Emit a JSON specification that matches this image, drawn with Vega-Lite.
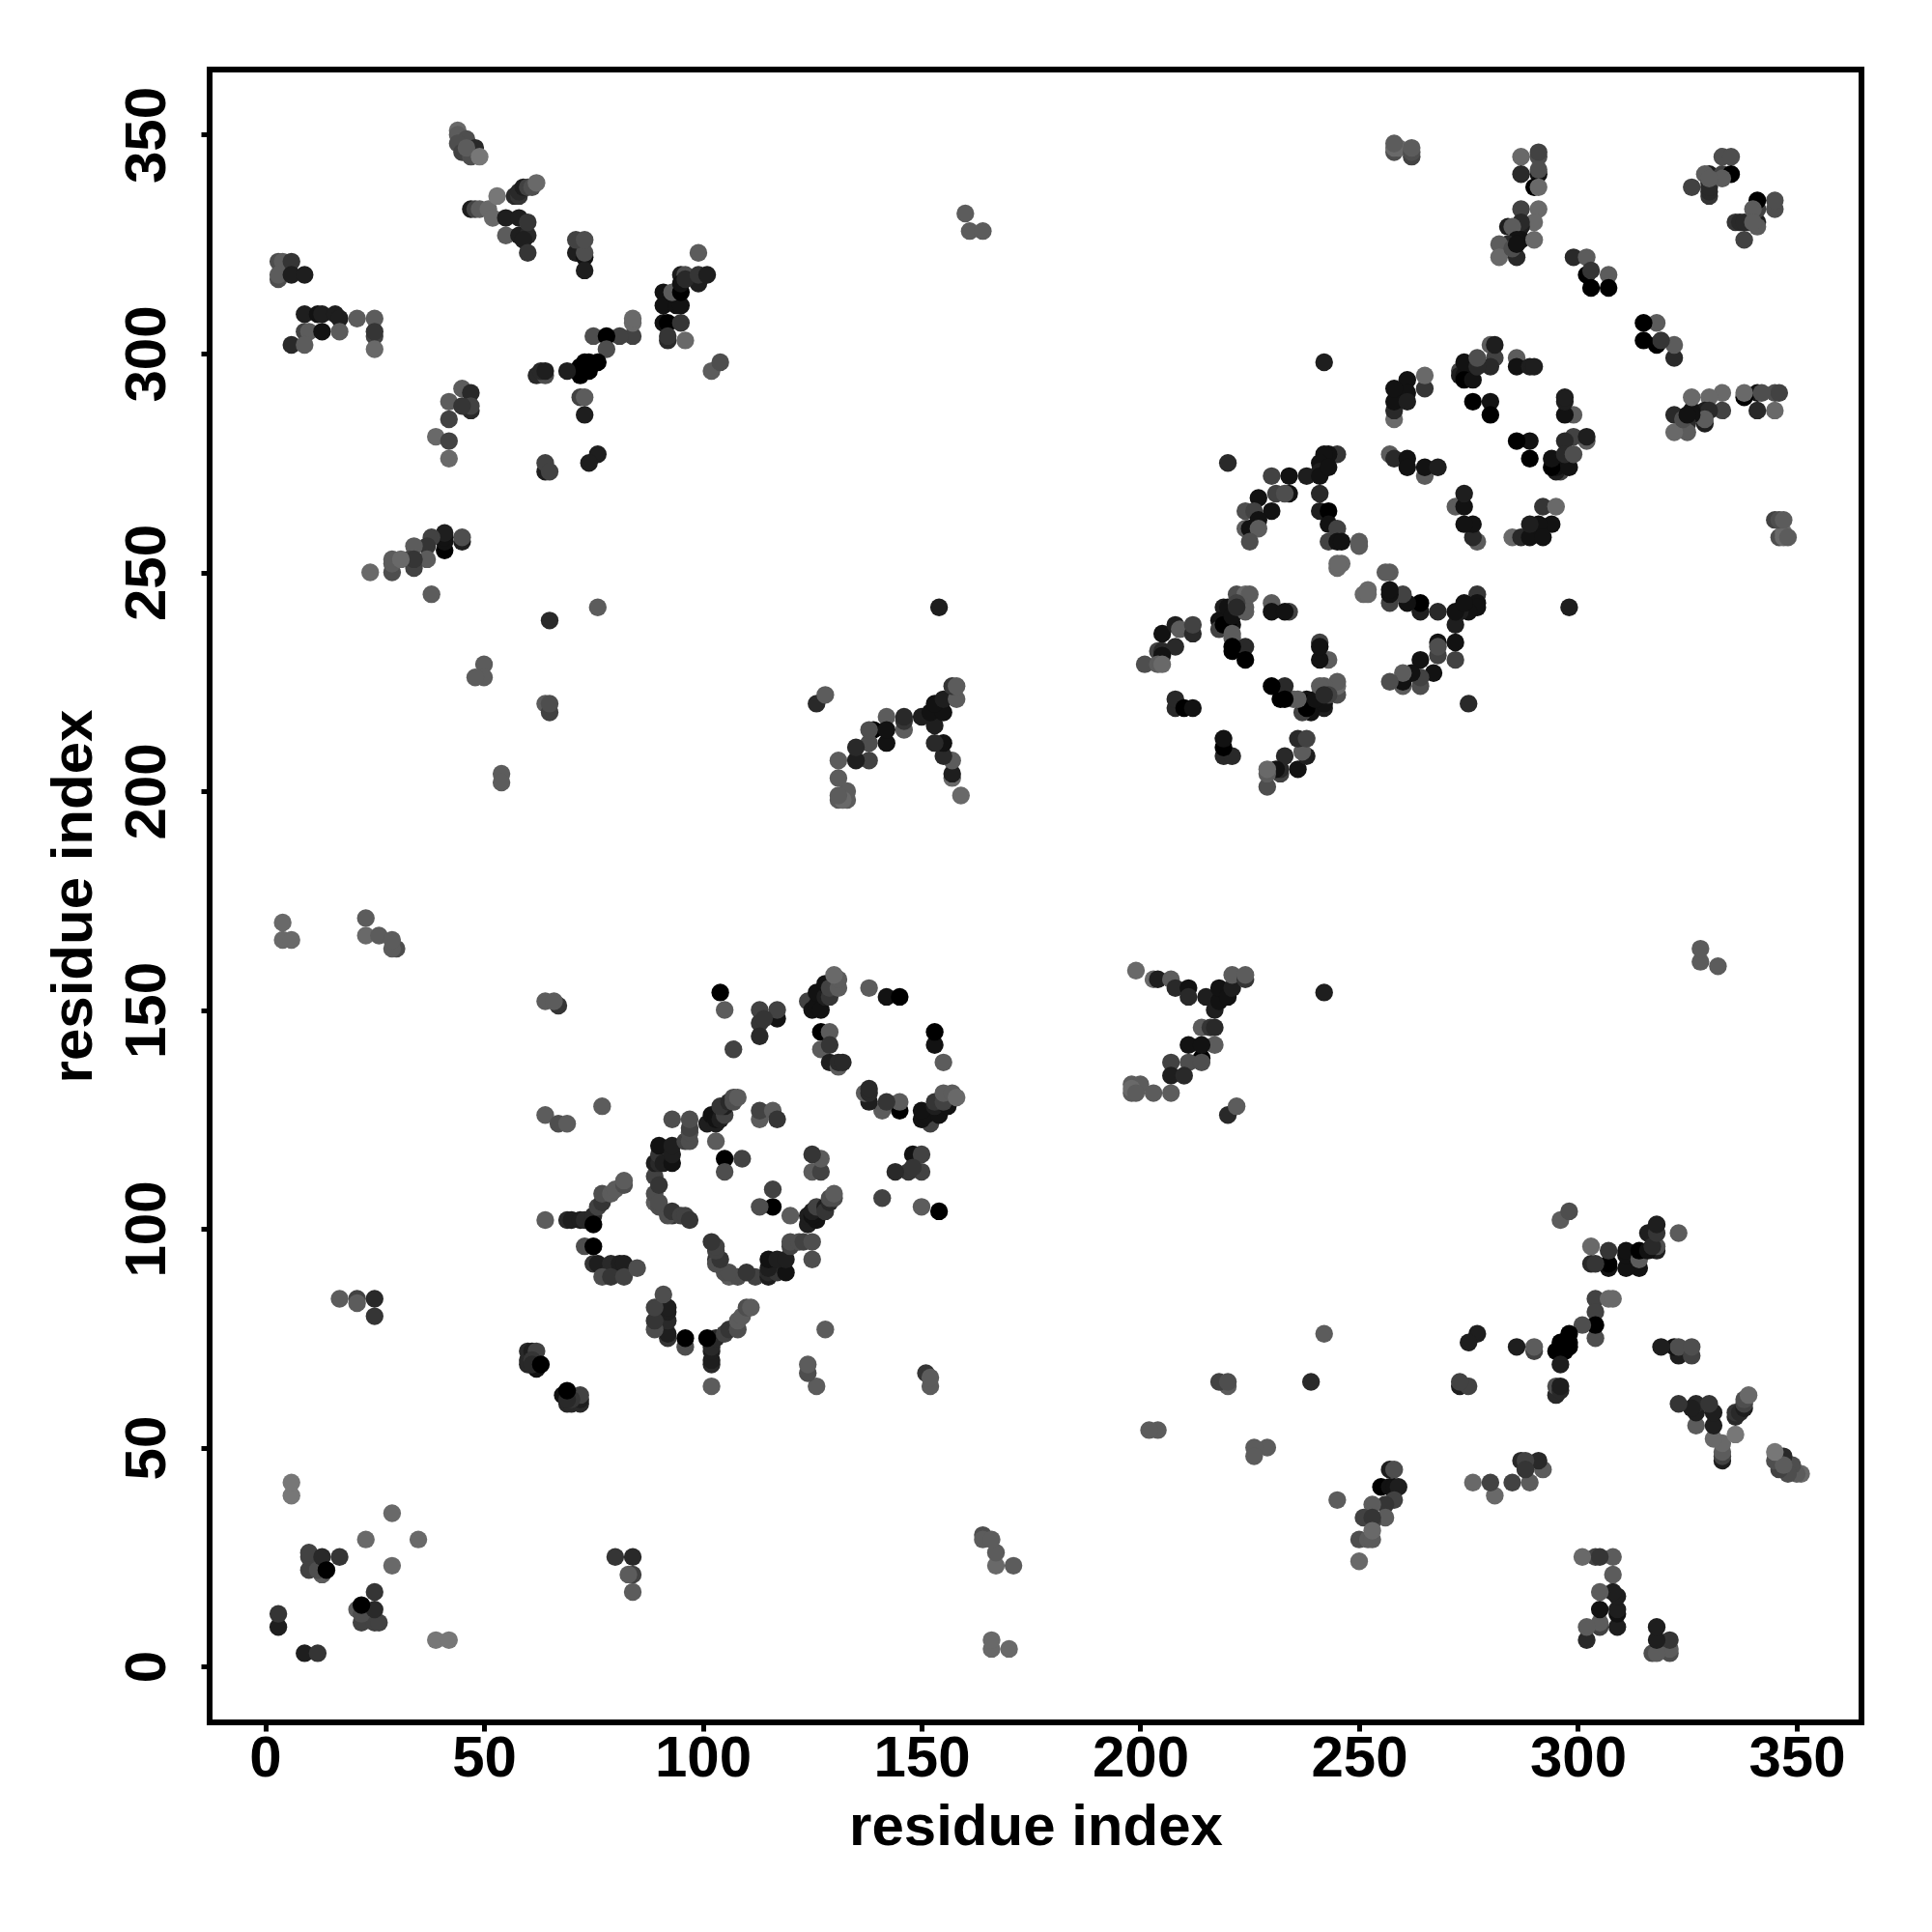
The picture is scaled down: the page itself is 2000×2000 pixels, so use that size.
{"$schema":"https://vega.github.io/schema/vega-lite/v6.json","width":1710,"height":1711,"autosize":"none","padding":{"left":217,"top":72,"right":73,"bottom":217},"background":"white","config":{"view":{"stroke":"#000000","strokeWidth":6}},
"data":{"values":[
{"x":3,"y":9,"v":2},{"x":9,"y":3,"v":2},{"x":3,"y":12,"v":4},{"x":12,"y":3,"v":4},{"x":6,"y":39,"v":9},{"x":39,"y":6,"v":9},{"x":6,"y":42,"v":9},{"x":42,"y":6,"v":9},{"x":23,"y":29,"v":8},{"x":29,"y":23,"v":8},{"x":29,"y":35,"v":8},{"x":35,"y":29,"v":8},{"x":10,"y":22,"v":5},{"x":22,"y":10,"v":5},{"x":10,"y":25,"v":5},{"x":25,"y":10,"v":5},{"x":10,"y":26,"v":5},{"x":26,"y":10,"v":5},{"x":13,"y":21,"v":7},{"x":21,"y":13,"v":7},{"x":12,"y":22,"v":6},{"x":22,"y":12,"v":6},{"x":13,"y":25,"v":3},{"x":25,"y":13,"v":3},{"x":17,"y":25,"v":4},{"x":25,"y":17,"v":4},{"x":14,"y":22,"v":0},{"x":22,"y":14,"v":0},
{"x":44,"y":351,"v":8},{"x":351,"y":44,"v":8},{"x":44,"y":350,"v":7},{"x":350,"y":44,"v":7},{"x":45,"y":348,"v":7},{"x":348,"y":45,"v":7},{"x":46,"y":349,"v":6},{"x":349,"y":46,"v":6},{"x":44,"y":348,"v":6},{"x":348,"y":44,"v":6},{"x":45,"y":346,"v":5},{"x":346,"y":45,"v":5},{"x":47,"y":345,"v":6},{"x":345,"y":47,"v":6},{"x":48,"y":347,"v":3},{"x":347,"y":48,"v":3},{"x":46,"y":347,"v":7},{"x":347,"y":46,"v":7},{"x":49,"y":345,"v":9},{"x":345,"y":49,"v":9},
{"x":47,"y":333,"v":2},{"x":333,"y":47,"v":2},{"x":48,"y":333,"v":5},{"x":333,"y":48,"v":5},{"x":49,"y":333,"v":7},{"x":333,"y":49,"v":7},{"x":51,"y":333,"v":8},{"x":333,"y":51,"v":8},{"x":53,"y":336,"v":9},{"x":336,"y":53,"v":9},{"x":52,"y":331,"v":8},{"x":331,"y":52,"v":8},{"x":55,"y":331,"v":2},{"x":331,"y":55,"v":2},{"x":58,"y":331,"v":2},{"x":331,"y":58,"v":2},{"x":55,"y":327,"v":7},{"x":327,"y":55,"v":7},{"x":58,"y":327,"v":2},{"x":327,"y":58,"v":2},{"x":60,"y":327,"v":3},{"x":327,"y":60,"v":3},{"x":59,"y":326,"v":2},{"x":326,"y":59,"v":2},{"x":60,"y":330,"v":4},{"x":330,"y":60,"v":4},{"x":60,"y":323,"v":4},{"x":323,"y":60,"v":4},{"x":57,"y":336,"v":3},{"x":336,"y":57,"v":3},{"x":58,"y":336,"v":4},{"x":336,"y":58,"v":4},{"x":58,"y":337,"v":3},{"x":337,"y":58,"v":3},{"x":59,"y":338,"v":2},{"x":338,"y":59,"v":2},{"x":60,"y":338,"v":5},{"x":338,"y":60,"v":5},{"x":61,"y":338,"v":6},{"x":338,"y":61,"v":6},{"x":62,"y":339,"v":8},{"x":339,"y":62,"v":8},
{"x":71,"y":323,"v":2},{"x":323,"y":71,"v":2},{"x":73,"y":322,"v":1},{"x":322,"y":73,"v":1},{"x":73,"y":323,"v":6},{"x":323,"y":73,"v":6},{"x":71,"y":326,"v":5},{"x":326,"y":71,"v":5},{"x":73,"y":326,"v":6},{"x":326,"y":73,"v":6},{"x":73,"y":319,"v":2},{"x":319,"y":73,"v":2},
{"x":3,"y":321,"v":6},{"x":321,"y":3,"v":6},{"x":4,"y":321,"v":7},{"x":321,"y":4,"v":7},{"x":6,"y":321,"v":4},{"x":321,"y":6,"v":4},{"x":3,"y":317,"v":6},{"x":317,"y":3,"v":6},{"x":3,"y":318,"v":7},{"x":318,"y":3,"v":7},{"x":6,"y":318,"v":2},{"x":318,"y":6,"v":2},{"x":9,"y":318,"v":2},{"x":318,"y":9,"v":2},
{"x":9,"y":309,"v":2},{"x":309,"y":9,"v":2},{"x":12,"y":309,"v":1},{"x":309,"y":12,"v":1},{"x":13,"y":309,"v":2},{"x":309,"y":13,"v":2},{"x":16,"y":309,"v":2},{"x":309,"y":16,"v":2},{"x":17,"y":308,"v":2},{"x":308,"y":17,"v":2},{"x":21,"y":308,"v":7},{"x":308,"y":21,"v":7},{"x":25,"y":308,"v":7},{"x":308,"y":25,"v":7},{"x":9,"y":305,"v":5},{"x":305,"y":9,"v":5},{"x":10,"y":305,"v":7},{"x":305,"y":10,"v":7},{"x":13,"y":305,"v":1},{"x":305,"y":13,"v":1},{"x":17,"y":305,"v":7},{"x":305,"y":17,"v":7},{"x":25,"y":304,"v":5},{"x":304,"y":25,"v":5},{"x":25,"y":305,"v":4},{"x":305,"y":25,"v":4},{"x":25,"y":301,"v":8},{"x":301,"y":25,"v":8},{"x":6,"y":302,"v":3},{"x":302,"y":6,"v":3},{"x":9,"y":302,"v":7},{"x":302,"y":9,"v":7},
{"x":91,"y":314,"v":1},{"x":314,"y":91,"v":1},{"x":91,"y":311,"v":1},{"x":311,"y":91,"v":1},{"x":94,"y":311,"v":1},{"x":311,"y":94,"v":1},{"x":95,"y":311,"v":1},{"x":311,"y":95,"v":1},{"x":93,"y":314,"v":7},{"x":314,"y":93,"v":7},{"x":95,"y":314,"v":0},{"x":314,"y":95,"v":0},{"x":95,"y":318,"v":2},{"x":318,"y":95,"v":2},{"x":96,"y":318,"v":6},{"x":318,"y":96,"v":6},{"x":99,"y":323,"v":7},{"x":323,"y":99,"v":7},{"x":99,"y":316,"v":2},{"x":316,"y":99,"v":2},{"x":95,"y":316,"v":1},{"x":316,"y":95,"v":1},{"x":96,"y":317,"v":3},{"x":317,"y":96,"v":3},{"x":99,"y":318,"v":4},{"x":318,"y":99,"v":4},{"x":101,"y":318,"v":2},{"x":318,"y":101,"v":2},{"x":91,"y":307,"v":1},{"x":307,"y":91,"v":1},{"x":92,"y":307,"v":0},{"x":307,"y":92,"v":0},{"x":95,"y":307,"v":4},{"x":307,"y":95,"v":4},{"x":92,"y":303,"v":3},{"x":303,"y":92,"v":3},{"x":92,"y":304,"v":4},{"x":304,"y":92,"v":4},{"x":96,"y":303,"v":8},{"x":303,"y":96,"v":8},{"x":102,"y":296,"v":7},{"x":296,"y":102,"v":7},{"x":104,"y":298,"v":6},{"x":298,"y":104,"v":6},
{"x":84,"y":304,"v":5},{"x":304,"y":84,"v":5},{"x":84,"y":307,"v":8},{"x":307,"y":84,"v":8},{"x":84,"y":308,"v":8},{"x":308,"y":84,"v":8},{"x":75,"y":304,"v":6},{"x":304,"y":75,"v":6},{"x":81,"y":304,"v":5},{"x":304,"y":81,"v":5},{"x":78,"y":304,"v":0},{"x":304,"y":78,"v":0},{"x":78,"y":301,"v":6},{"x":301,"y":78,"v":6},{"x":76,"y":298,"v":0},{"x":298,"y":76,"v":0},{"x":74,"y":298,"v":0},{"x":298,"y":74,"v":0},{"x":73,"y":298,"v":0},{"x":298,"y":73,"v":0},{"x":74,"y":296,"v":0},{"x":296,"y":74,"v":0},{"x":72,"y":295,"v":0},{"x":295,"y":72,"v":0},{"x":72,"y":297,"v":0},{"x":297,"y":72,"v":0},{"x":69,"y":296,"v":2},{"x":296,"y":69,"v":2},{"x":62,"y":295,"v":3},{"x":295,"y":62,"v":3},{"x":64,"y":295,"v":6},{"x":295,"y":64,"v":6},{"x":63,"y":296,"v":3},{"x":296,"y":63,"v":3},{"x":64,"y":296,"v":2},{"x":296,"y":64,"v":2},{"x":72,"y":290,"v":5},{"x":290,"y":72,"v":5},{"x":73,"y":290,"v":7},{"x":290,"y":73,"v":7},{"x":73,"y":286,"v":2},{"x":286,"y":73,"v":2},{"x":64,"y":273,"v":2},{"x":273,"y":64,"v":2},{"x":64,"y":275,"v":5},{"x":275,"y":64,"v":5},{"x":65,"y":273,"v":5},{"x":273,"y":65,"v":5},{"x":76,"y":277,"v":2},{"x":277,"y":76,"v":2},{"x":74,"y":275,"v":2},{"x":275,"y":74,"v":2},
{"x":45,"y":292,"v":7},{"x":292,"y":45,"v":7},{"x":47,"y":291,"v":3},{"x":291,"y":47,"v":3},{"x":42,"y":289,"v":7},{"x":289,"y":42,"v":7},{"x":47,"y":287,"v":3},{"x":287,"y":47,"v":3},{"x":47,"y":288,"v":5},{"x":288,"y":47,"v":5},{"x":45,"y":288,"v":4},{"x":288,"y":45,"v":4},{"x":42,"y":285,"v":5},{"x":285,"y":42,"v":5},{"x":39,"y":281,"v":8},{"x":281,"y":39,"v":8},{"x":42,"y":280,"v":5},{"x":280,"y":42,"v":5},{"x":42,"y":276,"v":8},{"x":276,"y":42,"v":8},
{"x":45,"y":257,"v":2},{"x":257,"y":45,"v":2},{"x":45,"y":258,"v":6},{"x":258,"y":45,"v":6},{"x":41,"y":255,"v":0},{"x":255,"y":41,"v":0},{"x":41,"y":257,"v":1},{"x":257,"y":41,"v":1},{"x":41,"y":258,"v":1},{"x":258,"y":41,"v":1},{"x":41,"y":259,"v":2},{"x":259,"y":41,"v":2},{"x":38,"y":258,"v":5},{"x":258,"y":38,"v":5},{"x":37,"y":256,"v":4},{"x":256,"y":37,"v":4},{"x":34,"y":256,"v":7},{"x":256,"y":34,"v":7},{"x":33,"y":253,"v":5},{"x":253,"y":33,"v":5},{"x":37,"y":253,"v":7},{"x":253,"y":37,"v":7},{"x":34,"y":251,"v":5},{"x":251,"y":34,"v":5},{"x":34,"y":253,"v":4},{"x":253,"y":34,"v":4},{"x":29,"y":250,"v":6},{"x":250,"y":29,"v":6},{"x":29,"y":252,"v":7},{"x":252,"y":29,"v":7},{"x":29,"y":253,"v":7},{"x":253,"y":29,"v":7},{"x":31,"y":253,"v":8},{"x":253,"y":31,"v":8},{"x":24,"y":250,"v":8},{"x":250,"y":24,"v":8},{"x":38,"y":245,"v":7},{"x":245,"y":38,"v":7},
{"x":76,"y":242,"v":7},{"x":242,"y":76,"v":7},{"x":65,"y":239,"v":3},{"x":239,"y":65,"v":3},{"x":50,"y":229,"v":7},{"x":229,"y":50,"v":7},{"x":50,"y":226,"v":7},{"x":226,"y":50,"v":7},{"x":48,"y":226,"v":7},{"x":226,"y":48,"v":7},{"x":64,"y":220,"v":7},{"x":220,"y":64,"v":7},{"x":65,"y":218,"v":5},{"x":218,"y":65,"v":5},{"x":65,"y":220,"v":6},{"x":220,"y":65,"v":6},{"x":54,"y":204,"v":7},{"x":204,"y":54,"v":7},{"x":54,"y":202,"v":7},{"x":202,"y":54,"v":7},
{"x":4,"y":170,"v":8},{"x":170,"y":4,"v":8},{"x":4,"y":166,"v":8},{"x":166,"y":4,"v":8},{"x":6,"y":166,"v":8},{"x":166,"y":6,"v":8},{"x":23,"y":171,"v":7},{"x":171,"y":23,"v":7},{"x":23,"y":167,"v":8},{"x":167,"y":23,"v":8},{"x":26,"y":167,"v":7},{"x":167,"y":26,"v":7},{"x":30,"y":164,"v":6},{"x":164,"y":30,"v":6},{"x":29,"y":164,"v":7},{"x":164,"y":29,"v":7},{"x":29,"y":166,"v":7},{"x":166,"y":29,"v":7},
{"x":67,"y":151,"v":4},{"x":151,"y":67,"v":4},{"x":64,"y":152,"v":7},{"x":152,"y":64,"v":7},{"x":66,"y":152,"v":7},{"x":152,"y":66,"v":7},{"x":64,"y":126,"v":7},{"x":126,"y":64,"v":7},{"x":67,"y":124,"v":6},{"x":124,"y":67,"v":6},{"x":69,"y":124,"v":7},{"x":124,"y":69,"v":7},{"x":77,"y":128,"v":7},{"x":128,"y":77,"v":7},{"x":64,"y":102,"v":7},{"x":102,"y":64,"v":7},
{"x":25,"y":80,"v":4},{"x":80,"y":25,"v":4},{"x":25,"y":84,"v":3},{"x":84,"y":25,"v":3},{"x":21,"y":84,"v":5},{"x":84,"y":21,"v":5},{"x":21,"y":83,"v":7},{"x":83,"y":21,"v":7},{"x":17,"y":84,"v":7},{"x":84,"y":17,"v":7},
{"x":62,"y":68,"v":1},{"x":68,"y":62,"v":1},{"x":60,"y":69,"v":3},{"x":69,"y":60,"v":3},{"x":60,"y":70,"v":3},{"x":70,"y":60,"v":3},{"x":60,"y":72,"v":3},{"x":72,"y":60,"v":3},{"x":61,"y":72,"v":2},{"x":72,"y":61,"v":2},{"x":62,"y":72,"v":5},{"x":72,"y":62,"v":5},{"x":61,"y":70,"v":4},{"x":70,"y":61,"v":4},{"x":61,"y":69,"v":3},{"x":69,"y":61,"v":3},{"x":63,"y":69,"v":0},{"x":69,"y":63,"v":0},
{"x":69,"y":102,"v":3},{"x":102,"y":69,"v":3},{"x":70,"y":102,"v":2},{"x":102,"y":70,"v":2},{"x":72,"y":102,"v":2},{"x":102,"y":72,"v":2},{"x":73,"y":102,"v":3},{"x":102,"y":73,"v":3},{"x":75,"y":103,"v":3},{"x":103,"y":75,"v":3},{"x":75,"y":101,"v":0},{"x":101,"y":75,"v":0},{"x":76,"y":105,"v":5},{"x":105,"y":76,"v":5},{"x":77,"y":106,"v":4},{"x":106,"y":77,"v":4},{"x":77,"y":108,"v":6},{"x":108,"y":77,"v":6},{"x":79,"y":108,"v":7},{"x":108,"y":79,"v":7},{"x":80,"y":109,"v":7},{"x":109,"y":80,"v":7},{"x":82,"y":110,"v":6},{"x":110,"y":82,"v":6},{"x":82,"y":111,"v":7},{"x":111,"y":82,"v":7},{"x":73,"y":96,"v":6},{"x":96,"y":73,"v":6},{"x":75,"y":96,"v":0},{"x":96,"y":75,"v":0},{"x":75,"y":92,"v":4},{"x":92,"y":75,"v":4},{"x":76,"y":92,"v":2},{"x":92,"y":76,"v":2},{"x":79,"y":92,"v":3},{"x":92,"y":79,"v":3},{"x":81,"y":92,"v":2},{"x":92,"y":81,"v":2},{"x":77,"y":89,"v":6},{"x":89,"y":77,"v":6},{"x":79,"y":89,"v":4},{"x":89,"y":79,"v":4},{"x":82,"y":92,"v":2},{"x":92,"y":82,"v":2},{"x":82,"y":89,"v":5},{"x":89,"y":82,"v":5},{"x":85,"y":91,"v":6},{"x":91,"y":85,"v":6},
{"x":89,"y":106,"v":7},{"x":106,"y":89,"v":7},{"x":89,"y":108,"v":6},{"x":108,"y":89,"v":6},{"x":89,"y":112,"v":5},{"x":112,"y":89,"v":5},{"x":89,"y":115,"v":2},{"x":115,"y":89,"v":2},{"x":90,"y":105,"v":6},{"x":105,"y":90,"v":6},{"x":90,"y":106,"v":6},{"x":106,"y":90,"v":6},{"x":90,"y":110,"v":4},{"x":110,"y":90,"v":4},{"x":90,"y":115,"v":3},{"x":115,"y":90,"v":3},{"x":90,"y":117,"v":4},{"x":117,"y":90,"v":4},{"x":90,"y":119,"v":1},{"x":119,"y":90,"v":1},{"x":91,"y":115,"v":2},{"x":115,"y":91,"v":2},{"x":93,"y":103,"v":4},{"x":103,"y":93,"v":4},{"x":92,"y":103,"v":6},{"x":103,"y":92,"v":6},{"x":93,"y":104,"v":4},{"x":104,"y":93,"v":4},{"x":95,"y":103,"v":5},{"x":103,"y":95,"v":5},{"x":96,"y":103,"v":5},{"x":103,"y":96,"v":5},{"x":97,"y":102,"v":4},{"x":102,"y":97,"v":4},{"x":93,"y":115,"v":1},{"x":115,"y":93,"v":1},{"x":93,"y":117,"v":2},{"x":117,"y":93,"v":2},{"x":93,"y":119,"v":2},{"x":119,"y":93,"v":2},{"x":93,"y":125,"v":6},{"x":125,"y":93,"v":6},{"x":96,"y":120,"v":5},{"x":120,"y":96,"v":5},{"x":97,"y":120,"v":6},{"x":120,"y":97,"v":6},{"x":97,"y":122,"v":6},{"x":122,"y":97,"v":6},{"x":97,"y":123,"v":5},{"x":123,"y":97,"v":5},{"x":97,"y":125,"v":6},{"x":125,"y":97,"v":6},
{"x":103,"y":120,"v":7},{"x":120,"y":103,"v":7},{"x":101,"y":124,"v":2},{"x":124,"y":101,"v":2},{"x":102,"y":126,"v":1},{"x":126,"y":102,"v":1},{"x":104,"y":126,"v":1},{"x":126,"y":104,"v":1},{"x":103,"y":124,"v":2},{"x":124,"y":103,"v":2},{"x":103,"y":125,"v":1},{"x":125,"y":103,"v":1},{"x":104,"y":125,"v":2},{"x":125,"y":104,"v":2},{"x":105,"y":126,"v":5},{"x":126,"y":105,"v":5},{"x":105,"y":128,"v":2},{"x":128,"y":105,"v":2},{"x":104,"y":128,"v":4},{"x":128,"y":104,"v":4},{"x":106,"y":129,"v":3},{"x":129,"y":106,"v":3},{"x":107,"y":129,"v":6},{"x":129,"y":107,"v":6},{"x":107,"y":130,"v":6},{"x":130,"y":107,"v":6},{"x":108,"y":130,"v":7},{"x":130,"y":108,"v":7},{"x":105,"y":116,"v":0},{"x":116,"y":105,"v":0},{"x":105,"y":113,"v":6},{"x":113,"y":105,"v":6},{"x":109,"y":116,"v":5},{"x":116,"y":109,"v":5},
{"x":113,"y":125,"v":7},{"x":125,"y":113,"v":7},{"x":113,"y":127,"v":5},{"x":127,"y":113,"v":5},{"x":116,"y":127,"v":7},{"x":127,"y":116,"v":7},{"x":117,"y":125,"v":4},{"x":125,"y":117,"v":4},
{"x":124,"y":152,"v":5},{"x":152,"y":124,"v":5},{"x":125,"y":150,"v":1},{"x":150,"y":125,"v":1},{"x":126,"y":151,"v":1},{"x":151,"y":126,"v":1},{"x":127,"y":150,"v":1},{"x":150,"y":127,"v":1},{"x":126,"y":154,"v":1},{"x":154,"y":126,"v":1},{"x":128,"y":153,"v":2},{"x":153,"y":128,"v":2},{"x":129,"y":153,"v":4},{"x":153,"y":129,"v":4},{"x":128,"y":156,"v":1},{"x":156,"y":128,"v":1},{"x":129,"y":155,"v":5},{"x":155,"y":129,"v":5},{"x":131,"y":155,"v":7},{"x":155,"y":131,"v":7},{"x":131,"y":157,"v":7},{"x":157,"y":131,"v":7},{"x":130,"y":158,"v":8},{"x":158,"y":130,"v":8},{"x":138,"y":155,"v":7},{"x":155,"y":138,"v":7},{"x":142,"y":153,"v":1},{"x":153,"y":142,"v":1},{"x":145,"y":153,"v":0},{"x":153,"y":145,"v":0},{"x":113,"y":150,"v":5},{"x":150,"y":113,"v":5},{"x":117,"y":148,"v":1},{"x":148,"y":117,"v":1},{"x":117,"y":150,"v":5},{"x":150,"y":117,"v":5},{"x":113,"y":147,"v":4},{"x":147,"y":113,"v":4},{"x":114,"y":148,"v":4},{"x":148,"y":114,"v":4},{"x":113,"y":144,"v":3},{"x":144,"y":113,"v":3},{"x":127,"y":145,"v":0},{"x":145,"y":127,"v":0},{"x":129,"y":145,"v":7},{"x":145,"y":129,"v":7},{"x":127,"y":141,"v":7},{"x":141,"y":127,"v":7},{"x":129,"y":142,"v":4},{"x":142,"y":129,"v":4},{"x":129,"y":138,"v":2},{"x":138,"y":129,"v":2},{"x":131,"y":137,"v":7},{"x":137,"y":131,"v":7},{"x":131,"y":138,"v":3},{"x":138,"y":131,"v":3},{"x":132,"y":138,"v":3},{"x":138,"y":132,"v":3},{"x":104,"y":154,"v":0},{"x":154,"y":104,"v":0},{"x":105,"y":150,"v":7},{"x":150,"y":105,"v":7},{"x":107,"y":141,"v":5},{"x":141,"y":107,"v":5},
{"x":159,"y":199,"v":8},{"x":199,"y":159,"v":8},{"x":157,"y":203,"v":8},{"x":203,"y":157,"v":8},{"x":157,"y":204,"v":2},{"x":204,"y":157,"v":2},{"x":157,"y":207,"v":7},{"x":207,"y":157,"v":7},{"x":155,"y":208,"v":3},{"x":208,"y":155,"v":3},{"x":155,"y":211,"v":1},{"x":211,"y":155,"v":1},{"x":153,"y":211,"v":3},{"x":211,"y":153,"v":3},{"x":153,"y":215,"v":2},{"x":215,"y":153,"v":2},{"x":150,"y":217,"v":2},{"x":217,"y":150,"v":2},{"x":152,"y":218,"v":1},{"x":218,"y":152,"v":1},{"x":155,"y":218,"v":1},{"x":218,"y":155,"v":1},{"x":153,"y":220,"v":1},{"x":220,"y":153,"v":1},{"x":155,"y":221,"v":2},{"x":221,"y":155,"v":2},{"x":158,"y":221,"v":7},{"x":221,"y":158,"v":7},{"x":157,"y":224,"v":4},{"x":224,"y":157,"v":4},{"x":158,"y":224,"v":7},{"x":224,"y":158,"v":7},{"x":146,"y":214,"v":7},{"x":214,"y":146,"v":7},{"x":146,"y":216,"v":4},{"x":216,"y":146,"v":4},{"x":146,"y":217,"v":3},{"x":217,"y":146,"v":3},{"x":142,"y":217,"v":7},{"x":217,"y":142,"v":7},{"x":142,"y":211,"v":1},{"x":211,"y":142,"v":1},{"x":139,"y":214,"v":0},{"x":214,"y":139,"v":0},{"x":142,"y":214,"v":1},{"x":214,"y":142,"v":1},{"x":138,"y":211,"v":6},{"x":211,"y":138,"v":6},{"x":138,"y":207,"v":5},{"x":207,"y":138,"v":5},{"x":135,"y":207,"v":2},{"x":207,"y":135,"v":2},{"x":135,"y":210,"v":3},{"x":210,"y":135,"v":3},{"x":138,"y":214,"v":6},{"x":214,"y":138,"v":6},{"x":133,"y":198,"v":7},{"x":198,"y":133,"v":7},{"x":133,"y":200,"v":7},{"x":200,"y":133,"v":7},{"x":131,"y":198,"v":7},{"x":198,"y":131,"v":7},{"x":132,"y":198,"v":8},{"x":198,"y":132,"v":8},{"x":131,"y":199,"v":7},{"x":199,"y":131,"v":7},{"x":131,"y":203,"v":7},{"x":203,"y":131,"v":7},{"x":131,"y":207,"v":7},{"x":207,"y":131,"v":7},{"x":126,"y":220,"v":3},{"x":220,"y":126,"v":3},{"x":128,"y":222,"v":7},{"x":222,"y":128,"v":7},
{"x":154,"y":242,"v":2},{"x":242,"y":154,"v":2},{"x":220,"y":275,"v":3},{"x":275,"y":220,"v":3},{"x":242,"y":298,"v":2},{"x":298,"y":242,"v":2},{"x":160,"y":332,"v":7},{"x":332,"y":160,"v":7},{"x":161,"y":328,"v":7},{"x":328,"y":161,"v":7},{"x":164,"y":328,"v":7},{"x":328,"y":164,"v":7},
{"x":265,"y":292,"v":4},{"x":292,"y":265,"v":4},{"x":265,"y":295,"v":8},{"x":295,"y":265,"v":8},{"x":261,"y":294,"v":1},{"x":294,"y":261,"v":1},{"x":261,"y":291,"v":1},{"x":291,"y":261,"v":1},{"x":258,"y":285,"v":8},{"x":285,"y":258,"v":8},{"x":258,"y":287,"v":3},{"x":287,"y":258,"v":3},{"x":258,"y":289,"v":1},{"x":289,"y":258,"v":1},{"x":258,"y":292,"v":1},{"x":292,"y":258,"v":1},{"x":261,"y":289,"v":2},{"x":289,"y":261,"v":2},
{"x":280,"y":302,"v":7},{"x":302,"y":280,"v":7},{"x":281,"y":299,"v":5},{"x":299,"y":281,"v":5},{"x":281,"y":302,"v":2},{"x":302,"y":281,"v":2},{"x":280,"y":297,"v":3},{"x":297,"y":280,"v":3},{"x":273,"y":296,"v":5},{"x":296,"y":273,"v":5},{"x":273,"y":295,"v":2},{"x":295,"y":273,"v":2},{"x":274,"y":295,"v":1},{"x":295,"y":274,"v":1},{"x":274,"y":294,"v":0},{"x":294,"y":274,"v":0},{"x":276,"y":294,"v":1},{"x":294,"y":276,"v":1},{"x":274,"y":298,"v":1},{"x":298,"y":274,"v":1},{"x":277,"y":297,"v":3},{"x":297,"y":277,"v":3},{"x":277,"y":299,"v":6},{"x":299,"y":277,"v":6},{"x":286,"y":299,"v":7},{"x":299,"y":286,"v":7},{"x":286,"y":297,"v":1},{"x":297,"y":286,"v":1},{"x":289,"y":297,"v":2},{"x":297,"y":289,"v":2},{"x":290,"y":297,"v":2},{"x":297,"y":290,"v":2},{"x":276,"y":289,"v":0},{"x":289,"y":276,"v":0},{"x":280,"y":289,"v":1},{"x":289,"y":280,"v":1},{"x":280,"y":286,"v":0},{"x":286,"y":280,"v":0},
{"x":257,"y":277,"v":7},{"x":277,"y":257,"v":7},{"x":258,"y":276,"v":3},{"x":276,"y":258,"v":3},{"x":261,"y":276,"v":1},{"x":276,"y":261,"v":1},{"x":261,"y":274,"v":1},{"x":274,"y":261,"v":1},{"x":265,"y":272,"v":7},{"x":272,"y":265,"v":7},{"x":265,"y":274,"v":1},{"x":274,"y":265,"v":1},{"x":268,"y":274,"v":2},{"x":274,"y":268,"v":2},
{"x":250,"y":257,"v":7},{"x":257,"y":250,"v":7},{"x":250,"y":256,"v":7},{"x":256,"y":250,"v":7},{"x":246,"y":252,"v":8},{"x":252,"y":246,"v":8},{"x":245,"y":251,"v":8},{"x":251,"y":245,"v":8},{"x":245,"y":252,"v":8},{"x":252,"y":245,"v":8},
{"x":245,"y":277,"v":4},{"x":277,"y":245,"v":4},{"x":243,"y":277,"v":1},{"x":277,"y":243,"v":1},{"x":242,"y":277,"v":1},{"x":277,"y":242,"v":1},{"x":241,"y":275,"v":1},{"x":275,"y":241,"v":1},{"x":241,"y":273,"v":2},{"x":273,"y":241,"v":2},{"x":238,"y":272,"v":2},{"x":272,"y":238,"v":2},{"x":241,"y":272,"v":1},{"x":272,"y":241,"v":1},{"x":243,"y":274,"v":1},{"x":274,"y":243,"v":1},{"x":241,"y":268,"v":3},{"x":268,"y":241,"v":3},{"x":241,"y":264,"v":2},{"x":264,"y":241,"v":2},{"x":243,"y":264,"v":0},{"x":264,"y":243,"v":0},{"x":243,"y":261,"v":1},{"x":261,"y":243,"v":1},{"x":245,"y":260,"v":5},{"x":260,"y":245,"v":5},{"x":243,"y":257,"v":5},{"x":257,"y":243,"v":5},{"x":245,"y":257,"v":1},{"x":257,"y":245,"v":1},{"x":246,"y":257,"v":1},{"x":257,"y":246,"v":1},
{"x":230,"y":272,"v":5},{"x":272,"y":230,"v":5},{"x":234,"y":272,"v":1},{"x":272,"y":234,"v":1},{"x":234,"y":268,"v":1},{"x":268,"y":234,"v":1},{"x":231,"y":268,"v":5},{"x":268,"y":231,"v":5},{"x":233,"y":268,"v":6},{"x":268,"y":233,"v":6},{"x":227,"y":267,"v":1},{"x":267,"y":227,"v":1},{"x":230,"y":264,"v":1},{"x":264,"y":230,"v":1},{"x":224,"y":264,"v":6},{"x":264,"y":224,"v":6},{"x":226,"y":264,"v":5},{"x":264,"y":226,"v":5},{"x":227,"y":262,"v":1},{"x":262,"y":227,"v":1},{"x":224,"y":260,"v":7},{"x":260,"y":224,"v":7},{"x":225,"y":260,"v":1},{"x":260,"y":225,"v":1},{"x":227,"y":260,"v":7},{"x":260,"y":227,"v":7},{"x":225,"y":257,"v":6},{"x":257,"y":225,"v":6},
{"x":222,"y":245,"v":6},{"x":245,"y":222,"v":6},{"x":224,"y":245,"v":8},{"x":245,"y":224,"v":8},{"x":225,"y":245,"v":7},{"x":245,"y":225,"v":7},{"x":224,"y":242,"v":7},{"x":242,"y":224,"v":7},{"x":221,"y":241,"v":3},{"x":241,"y":221,"v":3},{"x":219,"y":242,"v":2},{"x":242,"y":219,"v":2},{"x":218,"y":239,"v":1},{"x":239,"y":218,"v":1},{"x":218,"y":237,"v":5},{"x":237,"y":218,"v":5},{"x":221,"y":238,"v":1},{"x":238,"y":221,"v":1},{"x":221,"y":235,"v":7},{"x":235,"y":221,"v":7},{"x":221,"y":232,"v":0},{"x":232,"y":221,"v":0},{"x":224,"y":233,"v":3},{"x":233,"y":224,"v":3},{"x":224,"y":230,"v":0},{"x":230,"y":224,"v":0},{"x":230,"y":243,"v":7},{"x":243,"y":230,"v":7},{"x":230,"y":241,"v":1},{"x":241,"y":230,"v":1},{"x":234,"y":241,"v":5},{"x":241,"y":234,"v":5},{"x":233,"y":241,"v":1},{"x":241,"y":233,"v":1},{"x":219,"y":238,"v":0},{"x":238,"y":219,"v":0},{"x":220,"y":238,"v":0},{"x":238,"y":220,"v":0},{"x":220,"y":242,"v":1},{"x":242,"y":220,"v":1},{"x":221,"y":240,"v":1},{"x":240,"y":221,"v":1},{"x":224,"y":241,"v":7},{"x":241,"y":224,"v":7},{"x":222,"y":243,"v":5},{"x":243,"y":222,"v":5},{"x":222,"y":242,"v":3},{"x":242,"y":222,"v":3},{"x":221,"y":236,"v":7},{"x":236,"y":221,"v":7},{"x":221,"y":233,"v":0},{"x":233,"y":221,"v":0},
{"x":205,"y":236,"v":1},{"x":236,"y":205,"v":1},{"x":208,"y":238,"v":2},{"x":238,"y":208,"v":2},{"x":209,"y":237,"v":7},{"x":237,"y":209,"v":7},{"x":212,"y":236,"v":3},{"x":236,"y":212,"v":3},{"x":212,"y":238,"v":5},{"x":238,"y":212,"v":5},{"x":204,"y":232,"v":5},{"x":232,"y":204,"v":5},{"x":205,"y":232,"v":3},{"x":232,"y":205,"v":3},{"x":208,"y":233,"v":3},{"x":233,"y":208,"v":3},{"x":205,"y":231,"v":1},{"x":231,"y":205,"v":1},{"x":201,"y":229,"v":6},{"x":229,"y":201,"v":6},{"x":204,"y":229,"v":7},{"x":229,"y":204,"v":7},{"x":205,"y":229,"v":8},{"x":229,"y":205,"v":8},{"x":208,"y":219,"v":3},{"x":219,"y":208,"v":3},{"x":208,"y":221,"v":3},{"x":221,"y":208,"v":3},{"x":210,"y":219,"v":0},{"x":219,"y":210,"v":0},{"x":212,"y":219,"v":1},{"x":219,"y":212,"v":1},
{"x":287,"y":345,"v":8},{"x":345,"y":287,"v":8},{"x":291,"y":345,"v":6},{"x":345,"y":291,"v":6},{"x":291,"y":346,"v":5},{"x":346,"y":291,"v":5},{"x":287,"y":341,"v":3},{"x":341,"y":287,"v":3},{"x":291,"y":341,"v":1},{"x":341,"y":291,"v":1},{"x":291,"y":342,"v":6},{"x":342,"y":291,"v":6},{"x":290,"y":338,"v":0},{"x":338,"y":290,"v":0},{"x":291,"y":338,"v":8},{"x":338,"y":291,"v":8},{"x":287,"y":333,"v":5},{"x":333,"y":287,"v":5},{"x":291,"y":333,"v":8},{"x":333,"y":291,"v":8},{"x":290,"y":330,"v":8},{"x":330,"y":290,"v":8},{"x":284,"y":329,"v":2},{"x":329,"y":284,"v":2},{"x":287,"y":329,"v":2},{"x":329,"y":287,"v":2},{"x":287,"y":330,"v":3},{"x":330,"y":287,"v":3},{"x":285,"y":329,"v":7},{"x":329,"y":285,"v":7},{"x":287,"y":326,"v":1},{"x":326,"y":287,"v":1},{"x":286,"y":326,"v":1},{"x":326,"y":286,"v":1},{"x":290,"y":326,"v":8},{"x":326,"y":290,"v":8},{"x":284,"y":325,"v":3},{"x":325,"y":284,"v":3},{"x":282,"y":325,"v":7},{"x":325,"y":282,"v":7},{"x":282,"y":322,"v":8},{"x":322,"y":282,"v":8},{"x":286,"y":322,"v":3},{"x":322,"y":286,"v":3},{"x":285,"y":324,"v":6},{"x":324,"y":285,"v":6},{"x":286,"y":325,"v":1},{"x":325,"y":286,"v":1},
{"x":299,"y":322,"v":3},{"x":322,"y":299,"v":3},{"x":302,"y":322,"v":7},{"x":322,"y":302,"v":7},{"x":302,"y":318,"v":0},{"x":318,"y":302,"v":0},{"x":303,"y":319,"v":4},{"x":319,"y":303,"v":4},{"x":307,"y":318,"v":7},{"x":318,"y":307,"v":7},{"x":303,"y":315,"v":0},{"x":315,"y":303,"v":0},{"x":307,"y":315,"v":0},{"x":315,"y":307,"v":0},
{"x":333,"y":345,"v":6},{"x":345,"y":333,"v":6},{"x":335,"y":345,"v":6},{"x":345,"y":335,"v":6},{"x":330,"y":341,"v":2},{"x":341,"y":330,"v":2},{"x":329,"y":341,"v":7},{"x":341,"y":329,"v":7},{"x":333,"y":341,"v":5},{"x":341,"y":333,"v":5},{"x":335,"y":341,"v":0},{"x":341,"y":335,"v":0},{"x":326,"y":338,"v":5},{"x":338,"y":326,"v":5},{"x":330,"y":339,"v":4},{"x":339,"y":330,"v":4},{"x":330,"y":336,"v":4},{"x":336,"y":330,"v":4},{"x":330,"y":337,"v":3},{"x":337,"y":330,"v":3},{"x":330,"y":338,"v":3},{"x":338,"y":330,"v":3},{"x":333,"y":340,"v":7},{"x":340,"y":333,"v":7},{"x":330,"y":340,"v":7},{"x":340,"y":330,"v":7},
{"x":258,"y":346,"v":6},{"x":346,"y":258,"v":6},{"x":258,"y":347,"v":8},{"x":347,"y":258,"v":8},{"x":259,"y":347,"v":8},{"x":347,"y":259,"v":8},{"x":258,"y":348,"v":7},{"x":348,"y":258,"v":7},{"x":262,"y":345,"v":5},{"x":345,"y":262,"v":5},{"x":262,"y":346,"v":6},{"x":346,"y":262,"v":6},{"x":262,"y":347,"v":7},{"x":347,"y":262,"v":7}
]},
"mark":{"type":"point","filled":true,"opacity":1,"size":338,"shape":"circle"},
"encoding":{
"x":{"field":"x","type":"quantitative","scale":{"domain":[-12.7,364.8],"nice":false,"zero":false},"axis":{"title":"residue index","values":[0,50,100,150,200,250,300,350],"grid":false,"domain":false,"tickSize":9,"tickWidth":5,"tickColor":"#000000","labelFont":"Liberation Sans","labelFontWeight":"bold","labelFontSize":60,"labelColor":"#000000","labelPadding":-1,"labelFlush":false,"labelOverlap":false,"titleFont":"Liberation Sans","titleFontWeight":"bold","titleFontSize":60,"titleColor":"#000000","titlePadding":12}},
"y":{"field":"y","type":"quantitative","scale":{"domain":[-12.8,364.9],"nice":false,"zero":false},"axis":{"title":"residue index","values":[0,50,100,150,200,250,300,350],"grid":false,"domain":false,"tickSize":9,"tickWidth":5,"tickColor":"#000000","labelFont":"Liberation Sans","labelFontWeight":"bold","labelFontSize":60,"labelColor":"#000000","labelAngle":-90,"labelAlign":"center","labelBaseline":"alphabetic","labelPadding":38,"labelFlush":false,"labelOverlap":false,"titleFont":"Liberation Sans","titleFontWeight":"bold","titleFontSize":60,"titleColor":"#000000","titlePadding":15}},
"color":{"field":"v","type":"quantitative","scale":{"domain":[0,9],"range":["#000000","#777777"]},"legend":null}
}}
